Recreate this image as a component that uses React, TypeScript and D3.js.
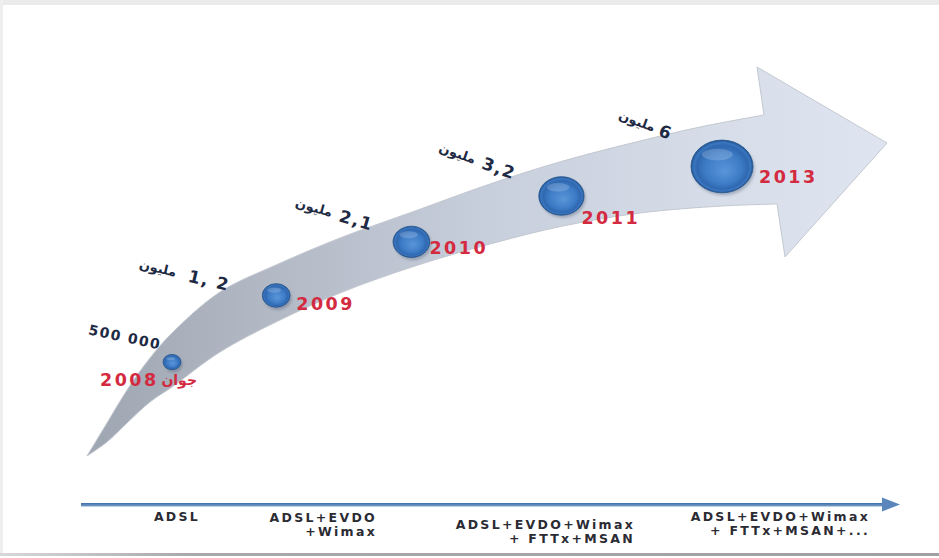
import React from "react";
import * as d3 from "d3";

// ---------- data ----------
const MILESTONES = ["2008", "2009", "2010", "2011", "2013"];
const SUBSCRIBERS_M = [0.5, 1.2, 2.1, 3.2, 6]; // millions
const VALUE_LABELS = ["500 000", "1, 2", "2,1", "3,2", "6"];
const UNIT_LABELS = ["", "مليون", "مليون", "مليون", "مليون"];
const DATE_PREFIX = ["جوان", "", "", "", ""];
const TECH_STAGES = [
  ["ADSL"],
  ["ADSL+EVDO", "+Wimax"],
  ["ADSL+EVDO+Wimax", "+ FTTx+MSAN"],
  ["ADSL+EVDO+Wimax", "+ FTTx+MSAN+..."],
];

// ---------- layout ----------
const W = 939;
const H = 558;
const FONT = "'DejaVu Sans', Verdana, sans-serif";
const UPPER_EDGE: [number, number][] = [
  [87, 456], [107, 423], [127, 390], [150, 358], [172, 333], [220, 292],
  [276, 265], [340, 238], [415, 211], [490, 184], [563, 161], [640, 141],
  [700, 127], [764, 115],
];
const LOWER_EDGE: [number, number][] = [
  [777, 204], [722, 206], [640, 213], [563, 226], [490, 244], [415, 266],
  [340, 293], [276, 322], [220, 352], [172, 387], [150, 402], [127, 423],
  [107, 442], [87, 456],
];
const HEAD: [number, number][] = [[757, 67], [887, 143], [785, 257]];
const LABEL_GAP = [12, 48, 40, 48, 52];
const LABEL_DY = [3, 3, 4, 3, 6];
const LABEL_ROT = [12, 13, 16, 19, 20];
const YEAR_DX = [-72, 20, 18, 20, 37];
const YEAR_DY = [24, 15, 12, 28, 17];
const STAGE_X = [177, 377, 635, 870];
const STAGE_Y = [521, 522, 529, 521];
const STAGE_STEP = 13.5;

export default function App() {
  const line = d3.line<[number, number]>().curve(d3.curveCatmullRom.alpha(0.5));
  const upperD = line(UPPER_EDGE) as string;
  const lowerD = (line(LOWER_EDGE) as string).replace(/^M/, "L");
  const headD = HEAD.map((p) => `L${p[0]},${p[1]}`).join("");
  const arrowD = upperD + headD + lowerD + "Z";

  const upperY = d3
    .scaleLinear()
    .domain(UPPER_EDGE.map((p) => p[0]))
    .range(UPPER_EDGE.map((p) => p[1]));
  const lowerSorted = [...LOWER_EDGE].reverse();
  const lowerY = d3
    .scaleLinear()
    .domain(lowerSorted.map((p) => p[0]))
    .range(lowerSorted.map((p) => p[1]));

  const xPos = d3
    .scalePow()
    .exponent(1.2)
    .domain([0, MILESTONES.length - 1])
    .range([172, 722]);
  const rScale = d3.scaleSqrt().domain([0, 6]).range([0, 31]);

  const pts = MILESTONES.map((m, i) => {
    const cx = xPos(i);
    const cy = (upperY(cx) + lowerY(cx)) / 2 + 2;
    const rx = rScale(SUBSCRIBERS_M[i]);
    return { m, i, cx, cy, rx, ry: rx * 0.85 };
  });

  return (
    <svg
      width={W}
      height={H}
      viewBox={`0 0 ${W} ${H}`}
      style={{ position: "absolute", left: 0, top: 0, background: "#fff" }}
    >
      <defs>
        <linearGradient id="band" x1="0" y1="0" x2="1" y2="0">
          <stop offset="0" stopColor="#9ea6b2" />
          <stop offset="0.2" stopColor="#b0b7c3" />
          <stop offset="0.5" stopColor="#c8cfdc" />
          <stop offset="0.8" stopColor="#d7deea" />
          <stop offset="1" stopColor="#dfe5f0" />
        </linearGradient>
        <radialGradient id="bub" cx="0.5" cy="0.5" r="0.5" fx="0.55" fy="0.6">
          <stop offset="0" stopColor="#5a95d8" />
          <stop offset="0.6" stopColor="#3d7bc6" />
          <stop offset="0.82" stopColor="#2f68b0" />
          <stop offset="0.92" stopColor="#3a76bf" />
          <stop offset="1" stopColor="#1f4f8c" />
        </radialGradient>
        <linearGradient id="axisG" x1="0" y1="0" x2="0" y2="1">
          <stop offset="0" stopColor="#3f6ea6" />
          <stop offset="1" stopColor="#7aa0cc" />
        </linearGradient>
        <linearGradient id="bottomG" x1="0" y1="0" x2="1" y2="0">
          <stop offset="0" stopColor="#d8d8d8" />
          <stop offset="0.2" stopColor="#a9a9a9" />
          <stop offset="1" stopColor="#a0a0a0" />
        </linearGradient>
        <filter id="shadow" x="-30%" y="-30%" width="160%" height="160%">
          <feGaussianBlur stdDeviation="1.5" />
        </filter>
      </defs>

      {/* frame */}
      <rect x={0} y={0} width={W} height={H} fill="#ffffff" />
      <rect x={0} y={0} width={W} height={5} fill="#ebebeb" />
      <rect x={0} y={0} width={3} height={556} fill="#eeeeee" />
      <rect x={0} y={553} width={W} height={3} fill="url(#bottomG)" />

      {/* curved arrow */}
      <path d={arrowD} fill="url(#band)" stroke="#c3c8d0" strokeWidth={1} />

      {/* bubbles */}
      {pts.map((p) => (
        <g key={p.m}>
          <ellipse
            cx={p.cx + 1.5}
            cy={p.cy + 2.5}
            rx={p.rx}
            ry={p.ry}
            fill="#3a4a66"
            opacity={0.35}
            filter="url(#shadow)"
          />
          <ellipse cx={p.cx} cy={p.cy} rx={p.rx} ry={p.ry} fill="url(#bub)" stroke="#24558f" strokeWidth={0.8} />
          <ellipse
            cx={p.cx - p.rx * 0.15}
            cy={p.cy - p.ry * 0.45}
            rx={p.rx * 0.5}
            ry={p.ry * 0.22}
            fill="#ffffff"
            opacity={0.18}
          />
        </g>
      ))}

      {/* value labels */}
      {pts.map((p) => {
        const ax = p.cx - LABEL_GAP[p.i];
        const ay = upperY(ax) + LABEL_DY[p.i];
        const big = p.i > 0;
        const fs = big ? 17 : 14;
        const ls = big ? 1.5 : 1.5;
        const numW = VALUE_LABELS[p.i].length * fs * 0.62 + (VALUE_LABELS[p.i].length - 1) * ls;
        return (
          <g key={"v" + p.m} transform={`translate(${ax},${ay}) rotate(${LABEL_ROT[p.i]})`}>
            <text
              x={0}
              y={0}
              textAnchor="end"
              fontFamily={FONT}
              fontWeight="bold"
              fontSize={fs}
              letterSpacing={ls}
              fill="#1e2a44"
            >
              {VALUE_LABELS[p.i]}
            </text>
            {UNIT_LABELS[p.i] && (
              <text
                x={-numW - 8}
                y={-2}
                textAnchor="end"
                fontFamily={FONT}
                fontWeight="bold"
                fontSize={13}
                fill="#1e2a44"
              >
                {UNIT_LABELS[p.i]}
              </text>
            )}
          </g>
        );
      })}

      {/* year labels */}
      {pts.map((p) => (
        <g key={"y" + p.m}>
          {DATE_PREFIX[p.i] && (
            <text
              x={p.cx + YEAR_DX[p.i] + 97}
              y={p.cy + YEAR_DY[p.i] - 1}
              textAnchor="end"
              fontFamily={FONT}
              fontWeight="bold"
              fontSize={14}
              fill="#d42a3f"
            >
              {DATE_PREFIX[p.i]}
            </text>
          )}
          <text
            x={p.cx + YEAR_DX[p.i]}
            y={p.cy + YEAR_DY[p.i]}
            fontFamily={FONT}
            fontWeight="bold"
            fontSize={17.5}
            letterSpacing={2.5}
            fill="#d42a3f"
          >
            {p.m}
          </text>
        </g>
      ))}

      {/* bottom axis */}
      <rect x={81} y={503} width={804} height={3.5} fill="url(#axisG)" />
      <path d="M882,497.5L900,504.5L882,511.5Z" fill="#5a86bb" />

      {TECH_STAGES.map((lines, i) => (
        <text
          key={"s" + i}
          fontFamily={FONT}
          fontWeight="bold"
          fontSize={12.5}
          letterSpacing={2.3}
          fill="#2b2b33"
          textAnchor={lines.length === 1 ? "middle" : "end"}
        >
          {lines.map((t, j) => (
            <tspan key={j} x={STAGE_X[i]} y={STAGE_Y[i] + j * STAGE_STEP}>
              {t}
            </tspan>
          ))}
        </text>
      ))}
    </svg>
  );
}
